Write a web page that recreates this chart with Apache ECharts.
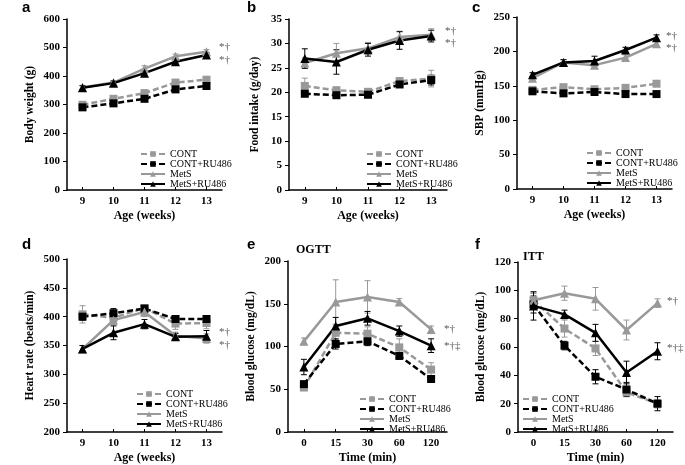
<!DOCTYPE html>
<html lang="en">
<head>
    <meta charset="UTF-8">
    <title>MetS panels</title>
    <script src="https://cdn.jsdelivr.net/npm/echarts@6.0.0/dist/echarts.min.js"></script>
    <style>
      html, body { margin: 0; padding: 0; background: #fff; }
    </style>
</head>
<body>

    <div id="main" style="width: 685px;height:465px;"></div>

    <script type="text/javascript">

      // categories
      const weeks = ['9', '10', '11', '12', '13'];
      const times = ['0', '15', '30', '60', '120'];
      const groups = ['CONT', 'CONT+RU486', 'MetS', 'MetS+RU486'];

      // values, one row per group (CONT, CONT+RU486, MetS, MetS+RU486)
      const bodyWeight = [
        [299, 320, 340, 377, 387],
        [290, 304, 320, 353, 365],
        [360, 377, 426, 469, 485],
        [359, 375, 410, 450, 474]
      ];
      const bodyWeightErr = [
        [6, 6, 6, 6, 6],
        [6, 6, 7, 8, 8],
        [7, 7, 10, 8, 8],
        [7, 7, 8, 8, 8]
      ];

      const foodIntake = [
        [21.3, 20.4, 20.1, 22.3, 22.8],
        [19.7, 19.4, 19.5, 21.6, 22.5],
        [26.0, 28.0, 29.0, 31.3, 31.8],
        [26.9, 26.2, 28.7, 30.6, 31.5]
      ];
      const foodIntakeErr = [
        [1.6, 0.7, 0.6, 0.5, 1.7],
        [0.5, 0.5, 0.6, 0.6, 1.0],
        [1.0, 2.0, 1.2, 1.2, 1.2],
        [2.0, 2.5, 1.3, 1.8, 1.2]
      ];

      const sbp = [
        [144, 148, 145, 147, 153],
        [142, 139, 141, 138, 138],
        [161, 184, 180, 191, 211],
        [166, 184, 186, 202, 220]
      ];
      const sbpErr = [
        [3, 3, 3, 3, 3],
        [3, 3, 3, 3, 3],
        [3, 4, 4, 4, 4],
        [3, 4, 7, 4, 4]
      ];

      const heartRate = [
        [404, 398, 415, 388, 389],
        [400, 406, 414, 396, 396],
        [344, 394, 408, 367, 362],
        [344, 372, 387, 365, 366]
      ];
      const heartRateErr = [
        [15, 8, 6, 10, 10],
        [6, 8, 6, 6, 6],
        [6, 8, 8, 6, 8],
        [6, 12, 8, 6, 10]
      ];

      const ogtt = [
        [52, 116, 115, 99, 73],
        [56, 103, 106, 89, 62],
        [106, 152, 158, 152, 120],
        [76, 124, 133, 118, 101]
      ];
      const ogttErr = [
        [3, 8, 8, 10, 8],
        [3, 6, 5, 4, 3],
        [4, 26, 19, 4, 4],
        [9, 10, 8, 6, 8]
      ];

      const itt = [
        [93, 73, 59, 28, 20],
        [90, 61, 39, 30, 20],
        [93, 98, 94, 72, 91],
        [89, 83, 70, 42, 57]
      ];
      const ittErr = [
        [5, 6, 5, 3, 3],
        [6, 3, 5, 5, 5],
        [5, 5, 8, 7, 3],
        [10, 3, 6, 8, 6]
      ];

      const serif = "'Liberation Serif', 'Times New Roman', serif";
      const sans = "'Liberation Sans', Arial, sans-serif";

      // look of each group
      const groupStyle = [
        { color: '#999999', type: [6, 3], symbol: 'rect', size: 8 },
        { color: '#000000', type: [6, 3], symbol: 'rect', size: 8 },
        { color: '#999999', type: 'solid', symbol: 'triangle', size: 9 },
        { color: '#000000', type: 'solid', symbol: 'triangle', size: 9 }
      ];

      // one entry per panel
      const panels = [
        { label: 'a', cats: weeks, data: bodyWeight, err: bodyWeightErr, min: 0, max: 600, interval: 100,
          yName: 'Body weight (g)', xName: 'Age (weeks)',
          grid: { left: 67, top: 19, width: 155, height: 171 }, legend: { left: 140, top: 149 },
          labelPos: [22, 0], marks: [['*†', 219, 42], ['*†', 219, 55]] },
        { label: 'b', cats: weeks, data: foodIntake, err: foodIntakeErr, min: 0, max: 35, interval: 5,
          yName: 'Food intake (g/day)', xName: 'Age (weeks)',
          grid: { left: 289, top: 19, width: 158, height: 171 }, legend: { left: 366, top: 149 },
          labelPos: [247, 0], marks: [['*†', 445, 26], ['*†', 445, 38]] },
        { label: 'c', cats: weeks, data: sbp, err: sbpErr, min: 0, max: 250, interval: 50,
          yName: 'SBP (mmHg)', xName: 'Age (weeks)',
          grid: { left: 517, top: 17, width: 155, height: 172 }, legend: { left: 586, top: 148 },
          labelPos: [472, 0], marks: [['*†', 666, 31], ['*†', 666, 43]] },
        { label: 'd', cats: weeks, data: heartRate, err: heartRateErr, min: 200, max: 500, interval: 50,
          yName: 'Heart rate (beats/min)', xName: 'Age (weeks)',
          grid: { left: 67, top: 259, width: 155, height: 173 }, legend: { left: 136, top: 389 },
          labelPos: [22, 237], marks: [['*†', 219, 327], ['*†', 219, 340]] },
        { label: 'e', cats: times, data: ogtt, err: ogttErr, min: 0, max: 200, interval: 50,
          yName: 'Blood glucose (mg/dL)', xName: 'Time (min)', tag: 'OGTT', tagPos: [296, 244],
          grid: { left: 288, top: 261, width: 159, height: 171 }, legend: { left: 359, top: 394 },
          labelPos: [247, 237], marks: [['*†', 444, 324], ['*†‡', 444, 341]] },
        { label: 'f', cats: times, data: itt, err: ittErr, min: 0, max: 120, interval: 20,
          yName: 'Blood glucose (mg/dL)', xName: 'Time (min)', tag: 'ITT', tagPos: [523, 251],
          grid: { left: 518, top: 262, width: 155, height: 170 }, legend: { left: 522, top: 394 },
          labelPos: [475, 237], marks: [['*†', 667, 296], ['*†‡', 667, 343]] }
      ];

      function errorBars(p, gi, vals, errs, color) {
        return {
          type: 'custom',
          name: groups[gi] + ' error',
          xAxisIndex: p,
          yAxisIndex: p,
          silent: true,
          z: 1,
          data: vals.map((v, i) => [i, v - errs[i], v + errs[i]]),
          encode: { x: 0, y: [1, 2] },
          renderItem: function (params, api) {
            const lo = api.coord([api.value(0), api.value(1)]);
            const hi = api.coord([api.value(0), api.value(2)]);
            const st = { stroke: color, lineWidth: 1 };
            const w = 3;
            return {
              type: 'group',
              children: [
                { type: 'line', shape: { x1: lo[0], y1: lo[1], x2: hi[0], y2: hi[1] }, style: st },
                { type: 'line', shape: { x1: hi[0] - w, y1: hi[1], x2: hi[0] + w, y2: hi[1] }, style: st },
                { type: 'line', shape: { x1: lo[0] - w, y1: lo[1], x2: lo[0] + w, y2: lo[1] }, style: st }
              ]
            };
          }
        };
      }

      var option = {
        animation: false,
        backgroundColor: '#fff',
        grid: [], xAxis: [], yAxis: [], legend: [], series: [], graphic: []
      };

      panels.forEach((pn, p) => {
        option.grid.push(pn.grid);
        option.xAxis.push({
          type: 'category', gridIndex: p, data: pn.cats, boundaryGap: true,
          name: pn.xName, nameLocation: 'middle', nameGap: 20,
          nameTextStyle: { fontFamily: serif, fontWeight: 'bold', fontSize: 12, color: '#000' },
          axisLine: { lineStyle: { color: '#000', width: 1.5 } },
          axisTick: { show: true, alignWithLabel: true, inside: true, length: 3, lineStyle: { color: '#000' } },
          axisLabel: { fontFamily: serif, fontWeight: 'bold', fontSize: 11, color: '#000', margin: 6 },
          splitLine: { show: false }
        });
        option.yAxis.push({
          type: 'value', gridIndex: p, min: pn.min, max: pn.max, interval: pn.interval,
          name: pn.yName, nameLocation: 'middle', nameGap: p === 1 ? 28 : 31,
          nameTextStyle: { fontFamily: serif, fontWeight: 'bold', fontSize: 11.5, color: '#000' },
          axisLine: { show: true, lineStyle: { color: '#000', width: 1.5 } },
          axisTick: { show: true, length: 4, lineStyle: { color: '#000' } },
          axisLabel: { fontFamily: serif, fontWeight: 'bold', fontSize: 11, color: '#000', margin: 7 },
          splitLine: { show: false }
        });
        option.legend.push({
          data: groups, orient: 'vertical', left: pn.legend.left, top: pn.legend.top,
          itemWidth: 24, itemHeight: 7, itemGap: 0, padding: 0,
          textStyle: { fontFamily: serif, fontSize: 10, color: '#000', lineHeight: 9 },
          selectedMode: false
        });
        pn.data.forEach((vals, gi) => {
          const gs = groupStyle[gi];
          option.series.push(errorBars(p, gi, vals, pn.err[gi], gs.color));
          option.series.push({
            type: 'line', name: groups[gi], xAxisIndex: p, yAxisIndex: p,
            data: vals, symbol: gs.symbol, symbolSize: gs.size, z: 3,
            lineStyle: { color: gs.color, width: 2.5, type: gs.type },
            itemStyle: { color: gs.color }
          });
        });
        option.graphic.push({
          type: 'text', left: pn.labelPos[0], top: pn.labelPos[1],
          style: { text: pn.label, fontFamily: sans, fontWeight: 'bold', fontSize: 15, fill: '#000' }
        });
        if (pn.tag) {
          option.graphic.push({
            type: 'text', left: pn.tagPos[0], top: pn.tagPos[1],
            style: { text: pn.tag, fontFamily: serif, fontWeight: 'bold', fontSize: 12, fill: '#000' }
          });
        }
        pn.marks.forEach(m => {
          option.graphic.push({
            type: 'text', left: m[1], top: m[2],
            style: { text: m[0], fontFamily: serif, fontSize: 11, fill: '#555' }
          });
        });
      });

      var myChart = echarts.init(document.getElementById('main'));
      myChart.setOption(option);

    </script>
  </body>
</html>
